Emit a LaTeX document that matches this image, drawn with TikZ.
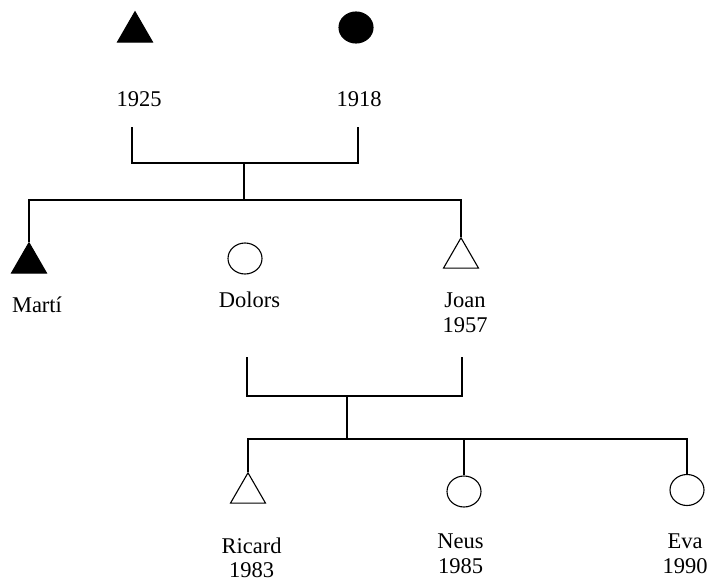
\documentclass[tikz,border=0pt]{standalone}
\usepackage{fontspec}
\setmainfont{Liberation Serif}
\usetikzlibrary{shapes.geometric}

\begin{document}
\begin{tikzpicture}[x=1pt,y=-1pt,line width=1.1pt,
    male/.style={regular polygon,regular polygon sides=3,draw,minimum size=40.4pt,inner sep=0},
    female/.style={ellipse,draw,minimum width=34pt,minimum height=31pt,inner sep=0},
    dead/.style={fill=black},
    tag/.style={font=\fontsize{22.5}{24.5}\selectfont,align=center,anchor=base,inner sep=0}]
    \useasboundingbox (0,0) rectangle (712,581);
    % grandparents
    \node[male,dead] (avi) at (135,32) {};
    \node[female,dead] (avia) at (356,27.5) {};
    \node[tag] (avilbl) at (139,106) {1925};
    \node[tag] (avialbl) at (359,106) {1918};
    \coordinate (avitop) at (132,127);
    \coordinate (aviatop) at (358,127);
    \coordinate (avimid) at (244,163);
    \coordinate (fill1) at (244,200);
    % children
    \node[male,dead] (marti) at (29,263) {};
    \node[female] (dolors) at (245,258.5) {};
    \node[male] (joan) at (461,258) {};
    \node[tag] (martilbl) at (37,312) {Martí};
    \node[tag] (dolorslbl) at (249.5,307) {Dolors};
    \node[tag] (joanlbl) at (465,332) {Joan\\1957};
    \draw (avitop) |- (avimid) -| (aviatop);
    \draw (avimid) -- (fill1);
    \draw (marti.north) |- (fill1) -| (joan.north);
    % grandchildren
    \coordinate (dolorstop) at (247,357);
    \coordinate (joantop) at (462,357);
    \coordinate (parmid) at (347,396);
    \coordinate (fill2) at (347,439);
    \node[male] (ricard) at (248,493) {};
    \node[female] (neus) at (464,491.5) {};
    \node[female] (eva) at (687,490) {};
    \node[tag] (ricardlbl) at (251.5,577.5) {Ricard\\1983};
    \node[tag] (neuslbl) at (460.5,573) {Neus\\1985};
    \node[tag] (evalbl) at (685,573) {Eva\\1990};
    \draw (dolorstop) |- (parmid) -| (joantop);
    \draw (parmid) -- (fill2);
    \draw (ricard.north) |- (fill2) -| (eva.north);
    \draw (neus.north) -- (neus.north |- fill2);
\end{tikzpicture}
\end{document}
